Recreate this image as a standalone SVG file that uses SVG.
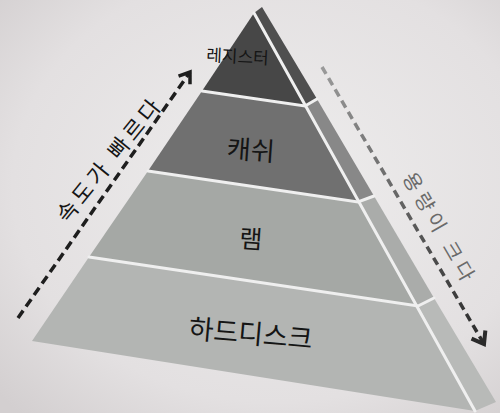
<svg xmlns="http://www.w3.org/2000/svg" width="500" height="413" viewBox="0 0 500 413">
<defs>
  <radialGradient id="bg" cx="0.55" cy="0.45" r="0.75">
    <stop offset="0" stop-color="#eeeded"/>
    <stop offset="0.7" stop-color="#e3e0e1"/>
    <stop offset="1" stop-color="#d3cfd0"/>
  </radialGradient>
  <linearGradient id="rdash" gradientUnits="userSpaceOnUse" x1="322" y1="67" x2="483" y2="343">
    <stop offset="0" stop-color="#9a9a9a"/>
    <stop offset="1" stop-color="#2a2a2a"/>
  </linearGradient>
  <marker id="headL" markerUnits="userSpaceOnUse" markerWidth="20" markerHeight="20" refX="0" refY="0" viewBox="-14 -10 18 20" orient="auto">
    <path d="M-10,-7 L0,0 L-10,7" fill="none" stroke="#1e1e1e" stroke-width="3.5" stroke-linejoin="miter"/>
  </marker>
  <marker id="headR" markerUnits="userSpaceOnUse" markerWidth="22" markerHeight="22" refX="0" refY="0" viewBox="-15 -11 19 22" orient="auto">
    <path d="M-11,-8 L0,0 L-11,8" fill="none" stroke="#2a2a2a" stroke-width="4" stroke-linejoin="miter"/>
  </marker>
  <style>
    .lbl { font-family: "Noto Sans CJK KR", "Noto Sans", sans-serif; fill: #151515; text-anchor: middle; dominant-baseline: central; }
    .seam { stroke: #efefef; stroke-width: 3; fill: none; stroke-linecap: round; }
    .side { stroke: none; }
  </style>
</defs>

<rect x="0" y="0" width="500" height="413" fill="url(#bg)"/>

<g id="register">
  <polygon points="254,13 305,106 202,91" fill="#474747"/>
  <polygon class="side" points="254,13 262,7 317,99 305,106" fill="#4f4f4f"/>
  <text class="lbl" x="206" y="61" style="text-anchor:start;dominant-baseline:auto" font-size="17" transform="rotate(3 206 61)">레지스터</text>
</g>

<g id="cache">
  <polygon points="202,91 305,106 358,202 148,171" fill="#707070"/>
  <polygon class="side" points="305,106 317,99 374,196 358,202" fill="#888888"/>
  <text class="lbl" x="251" y="148" font-size="26" transform="rotate(4 251 148)">캐쉬</text>
</g>

<g id="ram">
  <polygon points="148,171 358,202 418,306 89,257" fill="#a5a8a5"/>
  <polygon class="side" points="358,202 374,196 434,298 418,306" fill="#aaacaa"/>
  <text class="lbl" x="251" y="237" font-size="25" transform="rotate(4 251 237)">램</text>
</g>

<g id="harddisk">
  <polygon points="89,257 418,306 475,411 32,341" fill="#b3b5b3"/>
  <polygon class="side" points="418,306 434,298 496,402 475,411" fill="#b8bab8"/>
  <text class="lbl" x="251" y="332" font-size="27" transform="rotate(5 251 332)">하드디스크</text>
</g>

<g id="seams">
  <polyline class="seam" points="202,91 305,106 317,99"/>
  <polyline class="seam" points="148,171 358,202 374,196"/>
  <polyline class="seam" points="89,257 418,306 434,298"/>
  <line class="seam" x1="254" y1="13" x2="475" y2="411"/>
</g>

<g id="connectors">
  <line x1="18" y1="318" x2="190" y2="72" stroke="#1e1e1e" stroke-width="3.5" stroke-dasharray="9 5" marker-end="url(#headL)"/>
  <line x1="322" y1="67" x2="484" y2="344" stroke="url(#rdash)" stroke-width="3.5" stroke-dasharray="8 5" marker-end="url(#headR)"/>
</g>

<g id="speed-label">
  <text class="lbl" x="108" y="158" font-size="22" letter-spacing="4" transform="rotate(-51 108 158)">속도가 빠르다</text>
</g>
<g id="capacity-label">
  <text class="lbl" x="441" y="228" font-size="20" letter-spacing="5" style="fill:#6a6a6a" transform="rotate(60 441 228)">용량이 크다</text>
</g>
</svg>
